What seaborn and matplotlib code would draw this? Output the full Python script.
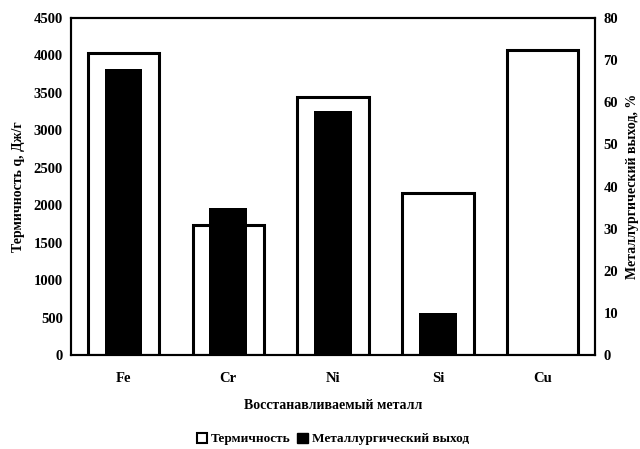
import matplotlib
matplotlib.use("Agg")
import matplotlib.pyplot as plt
import seaborn as sns
import pandas as pd
from matplotlib.patches import Patch

categories = ["Fe", "Cr", "Ni", "Si", "Cu"]
thermicity = [4030, 1735, 3450, 2160, 4070]
metal_yield = [68, 35, 58, 10, 0]

sns.set_theme(style="white")
plt.rcParams['font.family'] = ['Liberation Serif', 'DejaVu Serif']
plt.rcParams['font.weight'] = 'bold'
plt.rcParams['text.color'] = 'black'
plt.rcParams['axes.labelcolor'] = 'black'
plt.rcParams['xtick.color'] = 'black'
plt.rcParams['ytick.color'] = 'black'

df = pd.DataFrame({"metal": categories, "therm": thermicity, "yield": metal_yield})

fig = plt.figure(figsize=(6.4, 4.49), dpi=100)
ax = fig.add_axes([0.111, 0.209, 0.819, 0.751])

sns.barplot(data=df, x="metal", y="therm", ax=ax, color="white",
            edgecolor="black", linewidth=2.2, width=0.68, saturation=1)
ax.set_ylim(0, 4500)
ax.set_yticks(range(0, 4501, 500))
ax.set_xlim(-0.5, 4.5)

ax2 = ax.twinx()
sns.barplot(data=df, x="metal", y="yield", ax=ax2, color="black",
            edgecolor="black", linewidth=0, width=0.36, saturation=1)
ax2.set_ylim(0, 80)
ax2.set_yticks(range(0, 81, 10))
ax2.set_xlim(-0.5, 4.5)

for a in (ax, ax2):
    for s in a.spines.values():
        s.set_color("black")
        s.set_linewidth(1.5)
    a.tick_params(length=0, labelsize=10.5, pad=6, colors="black")
    for lbl in a.get_yticklabels() + a.get_xticklabels():
        lbl.set_fontweight("bold")

ax.tick_params(axis="x", pad=12)
ax.set_xlabel("Восстанавливаемый металл", fontsize=10, fontweight="bold", labelpad=10, color="black")
ax.set_ylabel("Термичность q, Дж/г", fontsize=10, fontweight="bold", labelpad=6, color="black")
ax2.set_ylabel("Металлургический выход, %", fontsize=10, fontweight="bold", labelpad=6, color="black")

handles = [Patch(facecolor="white", edgecolor="black", linewidth=1.5, label="Термичность"),
           Patch(facecolor="black", edgecolor="black", label="Металлургический выход")]
fig.legend(handles=handles, loc="lower center", bbox_to_anchor=(0.52, -0.018), ncol=2,
           frameon=False, handlelength=0.8, handleheight=0.8,
           handletextpad=0.3, columnspacing=0.5, labelcolor="black",
           prop={"weight": "bold", "size": 9.5})

fig.savefig("out.png", dpi=100)
